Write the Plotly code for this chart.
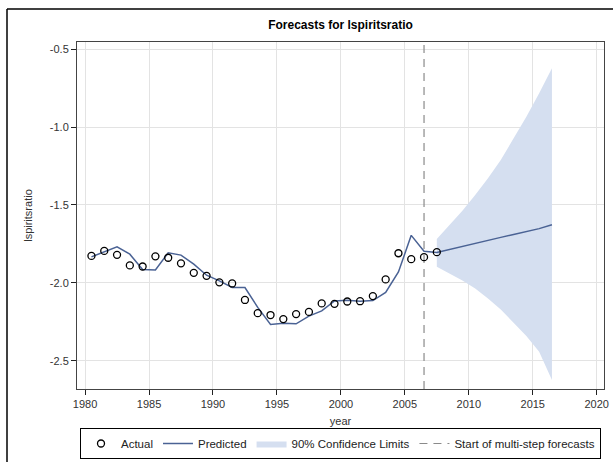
import plotly.graph_objects as go

# Observed series (annual, plotted at mid-year)
actual_years = list(range(1980, 2008))
actual_values = [
    -1.827, -1.795, -1.820, -1.888, -1.895, -1.830, -1.839, -1.875, -1.936, -1.955,
    -1.997, -2.004, -2.110, -2.195, -2.207, -2.233, -2.201, -2.187, -2.132, -2.135,
    -2.120, -2.118, -2.085, -1.978, -1.810, -1.848, -1.835, -1.803,
]

# One-step-ahead predictions followed by the multi-step forecast
pred_years = list(range(1980, 2017))
pred_values = [
    -1.833, -1.801, -1.769, -1.816, -1.914, -1.918, -1.807, -1.822, -1.880, -1.951,
    -1.987, -2.030, -2.030, -2.158, -2.267, -2.259, -2.263, -2.214, -2.180, -2.116,
    -2.112, -2.118, -2.114, -2.062, -1.930, -1.695, -1.797, -1.805, -1.785, -1.765,
    -1.745, -1.726, -1.708, -1.690, -1.672, -1.652, -1.627,
]

# 90% confidence limits over the forecast horizon
ci_years = list(range(2007, 2017))
ci_upper = [-1.719, -1.629, -1.537, -1.436, -1.329, -1.211, -1.072, -0.933, -0.783, -0.622]
ci_lower = [-1.897, -1.940, -1.985, -2.036, -2.100, -2.171, -2.257, -2.342, -2.443, -2.624]

forecast_start = 2006
x_ticks = [1980, 1985, 1990, 1995, 2000, 2005, 2010, 2015, 2020]
y_ticks = [-0.5, -1.0, -1.5, -2.0, -2.5]
x_range = [1979.37, 2020.57]
y_range = [-2.682, -0.453]

mid = lambda ys: [y + 0.5 for y in ys]

FONT = "Liberation Sans, Arial, sans-serif"
BAND = "#d5dff0"
LINE = "#4a6294"

fig = go.Figure()

# Band first so the lines and markers sit on top of it
band_x = mid(ci_years) + mid(ci_years)[::-1]
band_y = ci_upper + ci_lower[::-1]
fig.add_trace(go.Scatter(
    x=band_x, y=band_y, fill="toself", mode="lines", name="90% Confidence Limits",
    fillcolor=BAND, line=dict(width=0, color=BAND), legendrank=3,
))
fig.add_trace(go.Scatter(
    x=[forecast_start + 0.5] * 2, y=y_range, mode="lines",
    name="Start of multi-step forecasts", legendrank=4,
    line=dict(color="#8a8a8a", width=1.2, dash="8px,6px"),
))
fig.add_trace(go.Scatter(
    x=mid(pred_years), y=pred_values, mode="lines", name="Predicted",
    line=dict(color=LINE, width=1.5), legendrank=2,
))
fig.add_trace(go.Scatter(
    x=mid(actual_years), y=actual_values, mode="markers", name="Actual",
    marker=dict(symbol="circle-open", size=7, color="black", line=dict(width=1.3)),
    legendrank=1,
))

pw, ph = 613 - 77 - 9, 462 - 42 - 73

fig.update_layout(
    width=613, height=462,
    margin=dict(l=77, r=9, t=42, b=73, autoexpand=False),
    paper_bgcolor="white", plot_bgcolor="white",
    font=dict(family=FONT, size=11, color="#333"),
    title=dict(text="<b>Forecasts for lspiritsratio</b>", x=0.5, xref="paper",
               xanchor="center", y=1 - 25 / 462, yanchor="middle",
               font=dict(size=12, color="#000", family=FONT)),
    showlegend=True,
    legend=dict(orientation="h", x=0.5, xanchor="center",
                y=(389 - 459) / ph, yanchor="bottom",
                bordercolor="#000", borderwidth=1, bgcolor="white",
                font=dict(size=11.5, color="#222"), traceorder="normal",
                itemwidth=30, tracegroupgap=0),
)
fig.update_xaxes(
    range=x_range, tickvals=x_ticks, ticktext=[str(v) for v in x_ticks],
    showgrid=True, gridcolor="#e3e3e3", gridwidth=1, zeroline=False,
    showline=True, linecolor="#444", linewidth=1, mirror=True,
    ticks="outside", ticklen=5, tickcolor="#222",
    title=dict(text="year", standoff=8, font=dict(size=11, color="#333")),
)
fig.update_yaxes(
    range=y_range, tickvals=y_ticks, ticktext=[f"{v:.1f}" for v in y_ticks],
    showgrid=True, gridcolor="#e3e3e3", gridwidth=1, zeroline=False,
    showline=True, linecolor="#444", linewidth=1, mirror=True,
    ticks="outside", ticklen=5, tickcolor="#222",
    title=dict(text="lspiritsratio", standoff=14, font=dict(size=11, color="#333")),
)

# Outer frame edges along the top and left of the graphic
top_y = 1 + (42 - 9) / ph
left_x = (7 - 77) / pw
fig.add_shape(type="line", xref="paper", yref="paper", x0=left_x, x1=(613 - 77) / pw,
              y0=top_y, y1=top_y, line=dict(color="black", width=1.5))
fig.add_shape(type="line", xref="paper", yref="paper", x0=left_x, x1=left_x,
              y0=top_y, y1=(42 + ph - 462) / ph, line=dict(color="black", width=1.5))

fig.write_html("out.html")
